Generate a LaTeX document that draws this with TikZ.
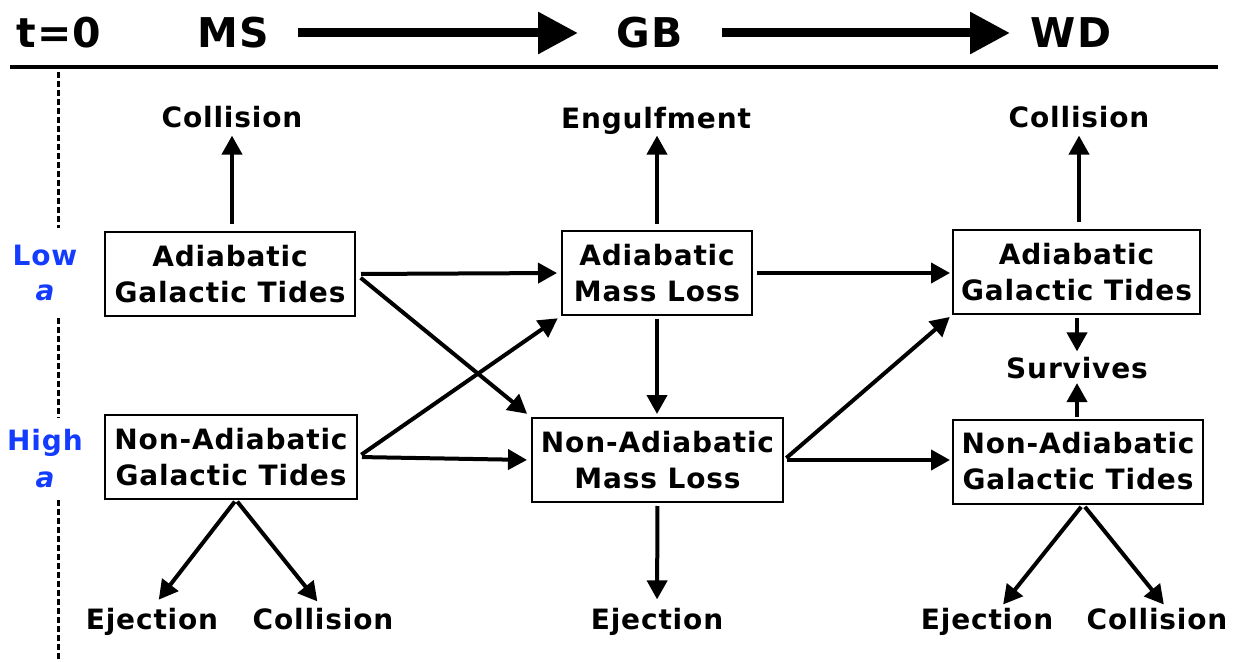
\documentclass[tikz,border=0pt]{standalone}
\usepackage{fontspec}
\setmainfont{DejaVu Sans}[LetterSpace=3]
\usetikzlibrary{arrows.meta,calc}
\definecolor{lowblue}{RGB}{20,60,255}
\begin{document}
\begin{tikzpicture}[x=0.5pt,y=-0.5pt,
  box/.style={draw, line width=1pt, inner sep=0pt, align=center,
    font=\fontsize{14}{18}\selectfont\bfseries, minimum height=42pt},
  lbl/.style={inner sep=0pt, font=\fontsize{14}{18}\selectfont\bfseries,
    text height=10.2pt, text depth=0pt},
  hdr/.style={inner sep=0pt, font=\fontsize{20.5}{22}\selectfont\bfseries,
    text height=15pt, text depth=0pt},
  blue/.style={inner sep=0pt, text=lowblue, font=\fontsize{14}{18}\selectfont\bfseries,
    text height=10.2pt, text depth=0pt},
  arr/.style={line width=2pt, -{Triangle[length=9.5pt,width=10pt]}},
  bigarr/.style={line width=4.5pt, -{Triangle[length=20pt,width=20pt]}},
  dline/.style={line width=1.5pt, dash pattern=on 3pt off 1.5pt}]
\useasboundingbox (0,0) rectangle (1240,662);

% header
\node[hdr] (t0) at (59,33) {t=0};
\node[hdr] (MS) at (233,33) {MS};
\node[hdr] (GB) at (650,33) {GB};
\node[hdr] (WD) at (1071,33) {WD};
\draw[bigarr] ($(MS)+(65,0)$) -- ($(GB)+(-72,0)$);
\draw[bigarr] ($(GB)+(72,0)$) -- ($(WD)+(-61,0)$);
\draw[line width=1.75pt] (10,67) -- (1218,67);

% time axis
\draw[dline] (58,72) -- (58,228);
\draw[dline] (58,318) -- (58,418);
\draw[dline] (58,500) -- (58,662);
\node[blue] (low) at (45,255) {Low};
\node[blue] (lowa) at (45,290) {\itshape a};
\node[blue] (high) at (45,440) {High};
\node[blue] (higha) at (45,477) {\itshape a};

% boxes
\node[box, minimum width=125pt] (A1) at (230,274) {Adiabatic\\Galactic Tides};
\node[box, minimum width=126pt] (N1) at (231,457) {Non-Adiabatic\\Galactic Tides};
\node[box, minimum width=95pt] (A2) at (657,273) {Adiabatic\\Mass Loss};
\node[box, minimum width=125.5pt] (N2) at (657.5,460) {Non-Adiabatic\\Mass Loss};
\node[box, minimum width=123.5pt] (A3) at (1076.5,272) {Adiabatic\\Galactic Tides};
\node[box, minimum width=125pt] (N3) at (1078,461.5) {Non-Adiabatic\\Galactic Tides};

% outcome labels
\node[lbl] (c1) at (232,117) {Collision};
\node[lbl] (eng) at (656,118) {Engulfment};
\node[lbl] (c3) at (1079,117) {Collision};
\node[lbl] (surv) at (1077,368) {Survives};
\node[lbl] (ej1) at (152,619) {Ejection};
\node[lbl] (c1b) at (323,619) {Collision};
\node[lbl] (ej2) at (657,619) {Ejection};
\node[lbl] (ej3) at (987,619) {Ejection};
\node[lbl] (c3b) at (1157,619) {Collision};

% arrows
\draw[arr, shorten <=3.5pt, shorten >=4pt] (A1.north -| c1.south) -- (c1.south);
\draw[arr, shorten <=2.5pt, shorten >=2pt] (A1.east) -- (A2.west);
\draw[arr, shorten <=3pt, shorten >=2.5pt] (A1.east) -- (N2.north west);
\draw[arr, shorten <=2pt, shorten >=2pt] (N1.east) -- (A2.south west);
\draw[arr, shorten <=2pt, shorten >=2pt] (N1.east) -- (N2.west);
\draw[arr, shorten <=3pt, shorten >=3.5pt] (A2.north) -- (A2.north |- eng.south);
\draw[arr, shorten <=1.5pt, shorten >=1.5pt] (A2.south) -- (N2.north -| A2.south);
\draw[arr, shorten <=2pt, shorten >=1pt] (A2.east) -- (A2.east -| A3.west);
\draw[arr, shorten <=1.5pt, shorten >=1.5pt] (N2.east) -- (A3.south west);
\draw[arr, shorten <=1.5pt, shorten >=1pt] (N2.east) -- (N2.east -| N3.west);
\draw[arr, shorten <=3.5pt, shorten >=4pt] (A3.north -| c3.south) -- (c3.south);
\draw[arr, shorten <=1.5pt, shorten >=3pt] (A3.south -| surv.north) -- (surv.north);
\draw[arr, shorten <=1pt, shorten >=2.25pt] (N3.north -| surv.south) -- (surv.south);
\draw[arr, shorten <=1pt, shorten >=5.5pt] ($(N1.south)+(5,0)$) -- (ej1.north);
\draw[arr, shorten <=1pt, shorten >=4.5pt] ($(N1.south)+(5,0)$) -- (c1b.north);
\draw[arr, shorten <=1.5pt, shorten >=4.5pt] (N2.south) -- (ej2.north);
\draw[arr, shorten <=1.5pt, shorten >=2.5pt] ($(N3.south)+(5,0)$) -- ($(ej3.north)+(13,0)$);
\draw[arr, shorten <=1.5pt, shorten >=2.5pt] ($(N3.south)+(5,0)$) -- ($(c3b.north)+(10,0)$);
\end{tikzpicture}
\end{document}
